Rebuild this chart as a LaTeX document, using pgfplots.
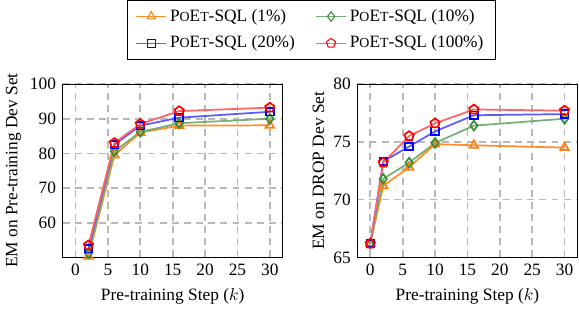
\documentclass[border=0pt]{standalone}
\usepackage{fontspec}
\setmainfont{Liberation Serif}
\usepackage{pgfplots}
\pgfplotsset{compat=1.18}
\definecolor{cor}{RGB}{255,127,14}
\definecolor{cgr}{RGB}{60,140,60}
\definecolor{lbl}{RGB}{90,90,255}
\definecolor{lrd}{RGB}{255,100,100}
\newcommand{\poet}{P{\footnotesize O}E{\footnotesize T}-SQL}
\begin{document}
\begin{tikzpicture}
\pgfplotsset{
  every axis/.append style={
    scale only axis, width=127pt, height=100pt,
    font=\normalsize,
    /pgf/number format/assume math mode=true,
    grid=major,
    major grid style={dash pattern=on 4pt off 3pt, black!28, line width=1pt},
    xmin=-2, xmax=32, xtick={0,5,...,30},
    xlabel={Pre-training Step ($k$)},
    tick style={draw=none},
    line width=1pt,
    axis line style={line width=0.6pt},
  },
  s1/.style={color=cor!90, mark=triangle, mark options={solid, draw=cor, fill=white, scale=1.4}},
  s2/.style={color=cgr!70, mark=diamond, mark options={solid, draw=cgr, fill=white, scale=1.4}},
  s3/.style={color=lbl, mark=square, mark options={solid, draw=blue, fill=white, scale=1.1}},
  s4/.style={color=lrd, mark=pentagon, mark options={solid, draw=red, fill=white, scale=1.4}},
}
\begin{axis}[
  ymin=50, ymax=100, ytick={60,70,80,90,100},
  ylabel={EM on Pre-training Dev Set},
  ylabel style={yshift=-2pt},
  legend columns=2,
  legend style={at={(1.13,1.14)}, anchor=south, draw=black, line width=0.6pt,
    font=\normalsize, /tikz/every even column/.append style={column sep=10pt},
    row sep=3pt, inner xsep=5pt, inner ysep=3pt},
  legend cell align=left,
]
\addplot[s1] coordinates {(2,50.3) (6,79.5) (10,86.0) (16,88.0) (30,88.1)};
\addlegendentry{\poet{} (1\%)}
\addplot[s2] coordinates {(2,51.2) (6,80.6) (10,86.2) (16,88.7) (30,90.0)};
\addlegendentry{\poet{} (10\%)}
\addplot[s3] coordinates {(2,52.5) (6,82.5) (10,88.0) (16,90.3) (30,92.0)};
\addlegendentry{\poet{} (20\%)}
\addplot[s4] coordinates {(2,53.5) (6,83.0) (10,88.5) (16,92.2) (30,93.2)};
\addlegendentry{\poet{} (100\%)}
\end{axis}
\begin{axis}[
  xshift=170pt,
  ymin=65, ymax=80, ytick={65,70,75,80},
  ylabel={EM on DROP Dev Set},
  ylabel style={yshift=-2pt},
]
\addplot[s1] coordinates {(0,66.2) (2,71.2) (6,72.8) (10,74.8) (16,74.7) (30,74.5)};
\addplot[s2] coordinates {(0,66.2) (2,71.8) (6,73.2) (10,74.9) (16,76.4) (30,77.0)};
\addplot[s3] coordinates {(0,66.2) (2,73.3) (6,74.6) (10,75.9) (16,77.3) (30,77.4)};
\addplot[s4] coordinates {(0,66.2) (2,73.2) (6,75.5) (10,76.6) (16,77.8) (30,77.7)};
\end{axis}
\end{tikzpicture}
\end{document}
